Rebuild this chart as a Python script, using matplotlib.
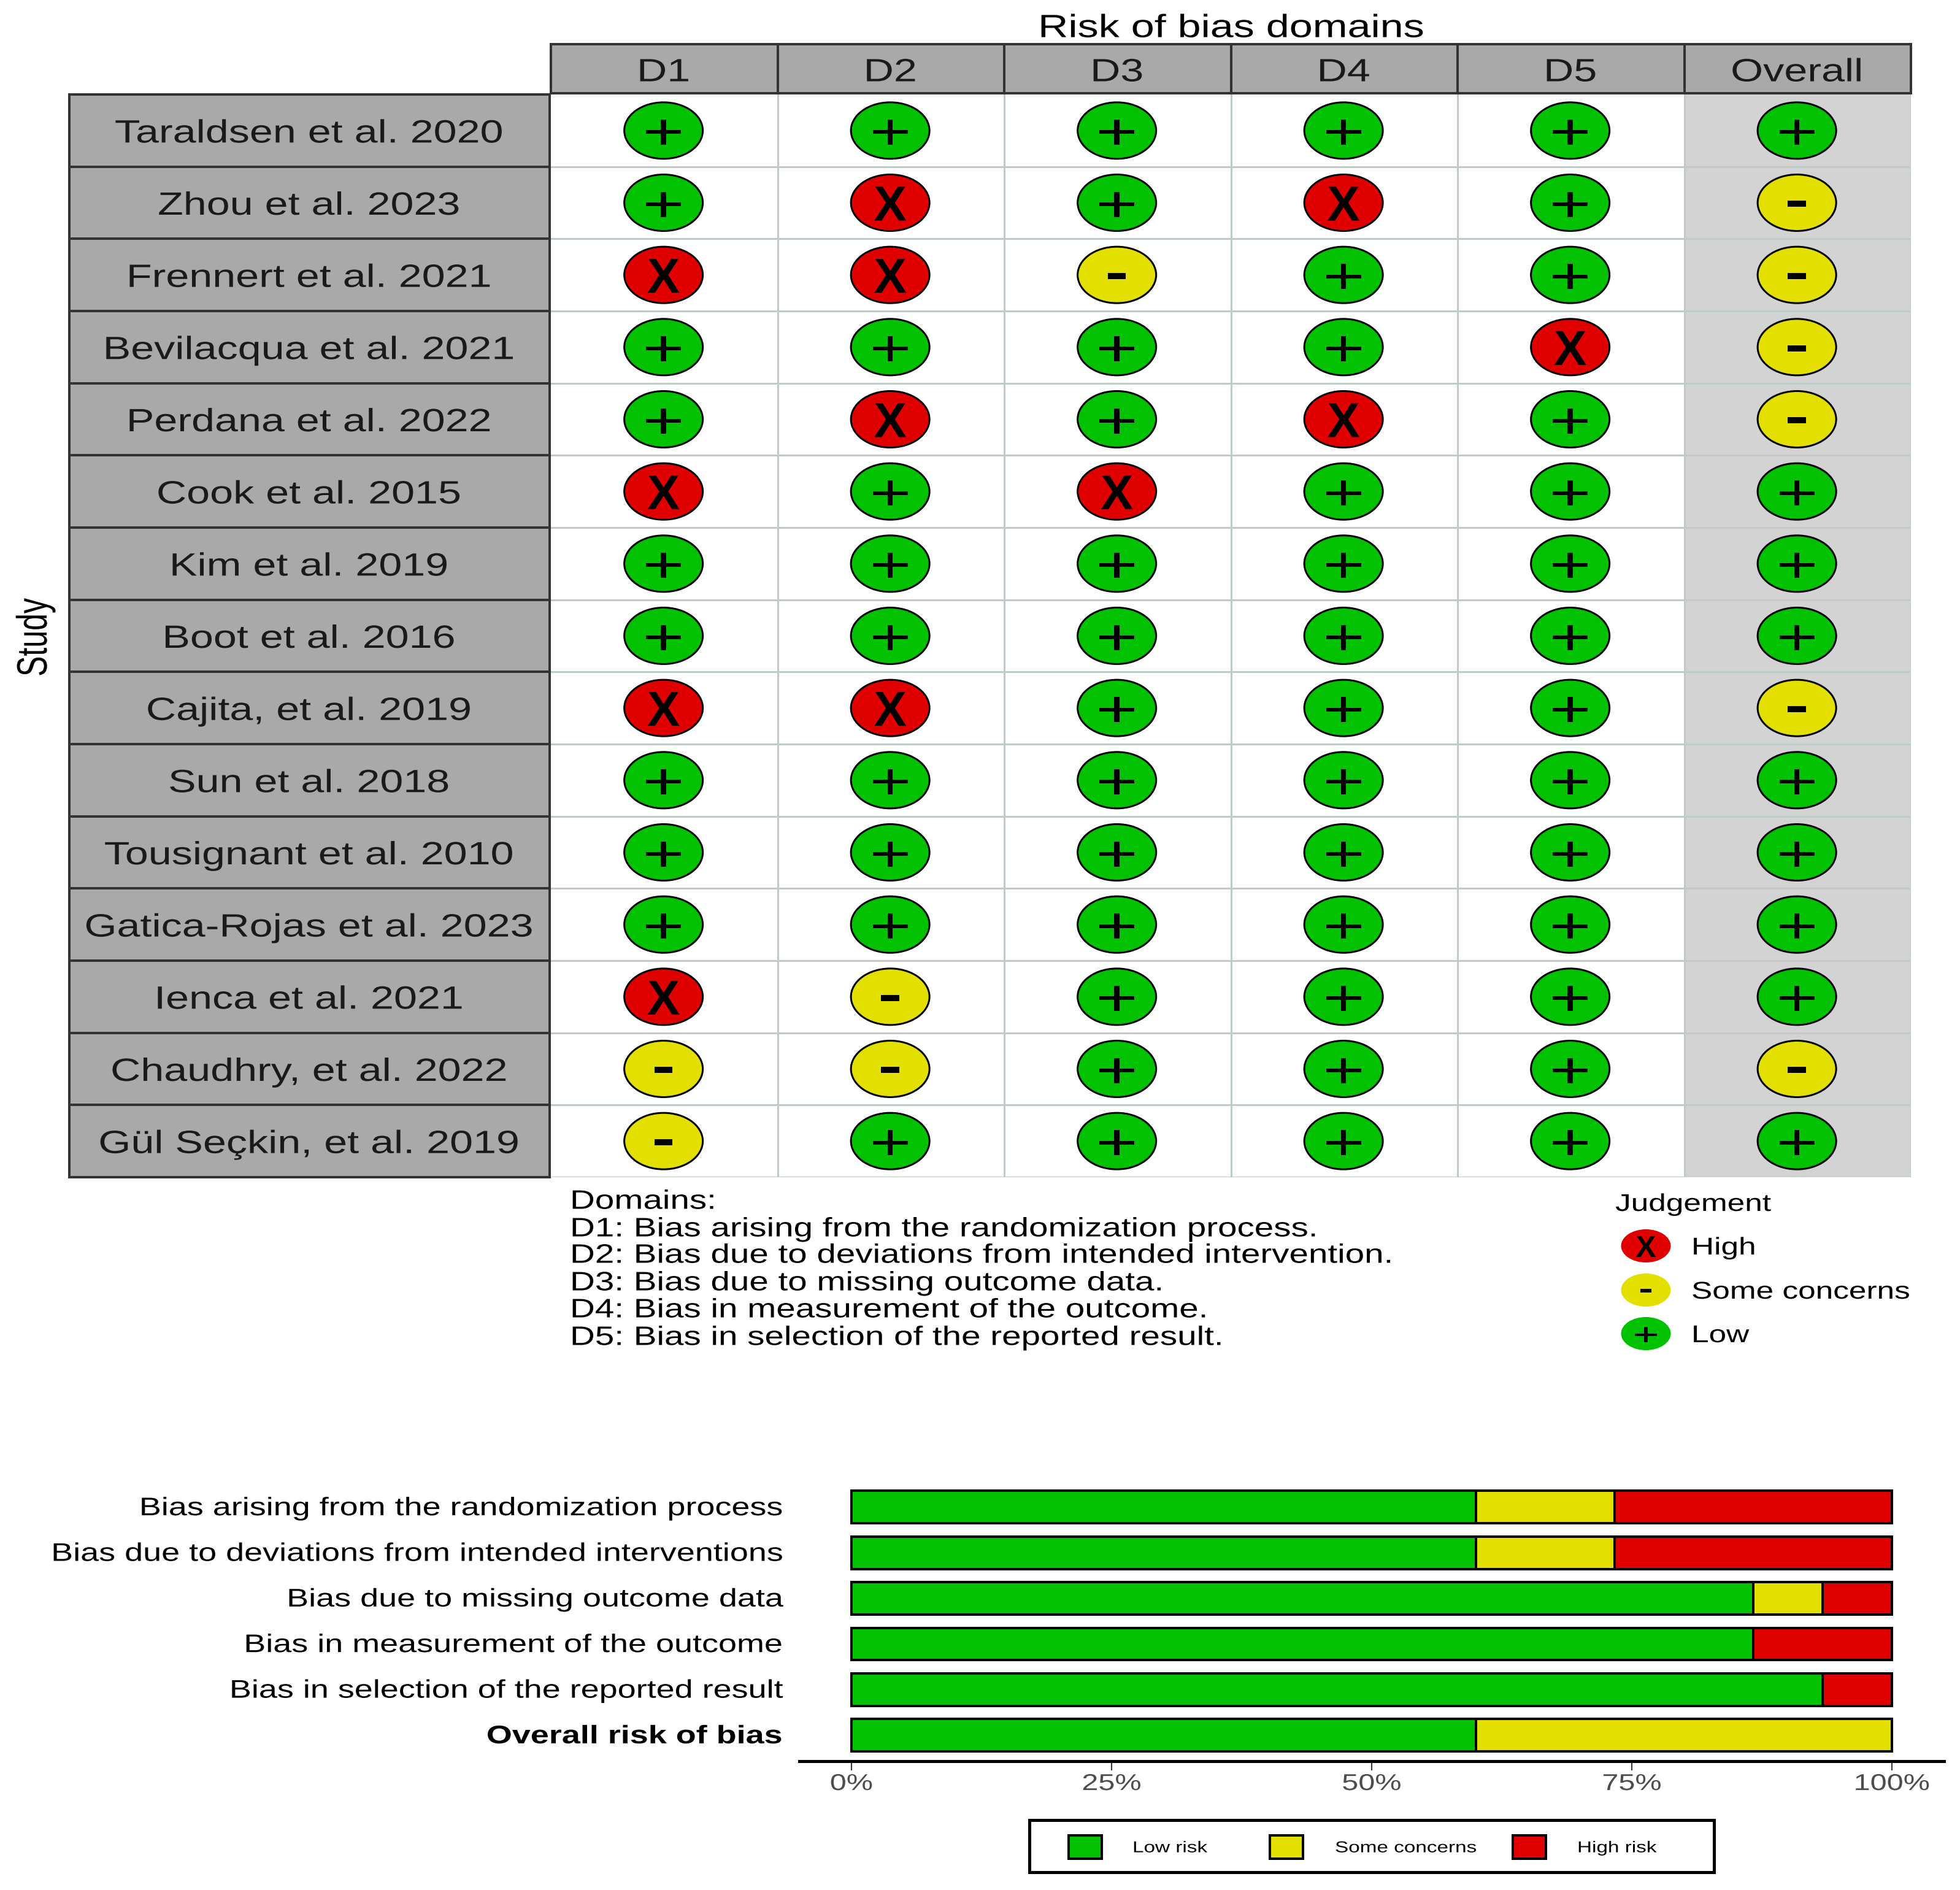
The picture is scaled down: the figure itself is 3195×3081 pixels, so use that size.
import matplotlib
matplotlib.use("Agg")
import matplotlib.pyplot as plt
from matplotlib.patches import Ellipse, Rectangle
from matplotlib.patheffects import AbstractPathEffect
from matplotlib.transforms import Affine2D

# ---------- data ----------
studies = ["Taraldsen et al. 2020", "Zhou et al. 2023", "Frennert et al. 2021",
           "Bevilacqua et al. 2021", "Perdana et al. 2022", "Cook et al. 2015",
           "Kim et al. 2019", "Boot et al. 2016", "Cajita, et al. 2019",
           "Sun et al. 2018", "Tousignant et al. 2010", "Gatica-Rojas et al. 2023",
           "Ienca et al. 2021", "Chaudhry, et al. 2022", "Gül Seçkin, et al. 2019"]
domains = ["D1", "D2", "D3", "D4", "D5", "Overall"]
d1 = list("LLHLLHLLHLLLHSS")
d2 = list("LHHLHLLLHLLLSSL")
d3 = list("LLSLLHLLLLLLLLL")
d4 = list("LHLLHLLLLLLLLLL")
d5 = list("LLLHLLLLLLLLLLL")
overall = list("LSSSSLLLSLLLLSL")
judgements = [d1, d2, d3, d4, d5, overall]

domain_notes = ["Domains:",
                "D1: Bias arising from the randomization process.",
                "D2: Bias due to deviations from intended intervention.",
                "D3: Bias due to missing outcome data.",
                "D4: Bias in measurement of the outcome.",
                "D5: Bias in selection of the reported result."]

bar_labels = ["Bias arising from the randomization process",
              "Bias due to deviations from intended interventions",
              "Bias due to missing outcome data",
              "Bias in measurement of the outcome",
              "Bias in selection of the reported result",
              "Overall risk of bias"]
low_risk = [60.0, 60.0, 86.67, 86.67, 93.33, 60.0]
some_concerns = [13.33, 13.33, 6.67, 0.0, 0.0, 40.0]
high_risk = [26.67, 26.67, 6.67, 13.33, 6.67, 0.0]
pct_ticks = [0, 25, 50, 75, 100]

# ---------- style ----------
GREEN, YELLOW, RED = "#02C100", "#E3E000", "#E00000"
COLORS = {"L": GREEN, "S": YELLOW, "H": RED}
GLYPH = {"L": "+", "S": "-", "H": "X"}
W, H = 3195, 3081
DPI = 100
STRETCH = 1.30
px = 72 / DPI  # points per pixel
plt.rcParams["font.family"] = ["Liberation Sans", "DejaVu Sans"]


class HStretch(AbstractPathEffect):
    """Widen a text horizontally about its anchor, as in the reference."""
    def __init__(self, text, factor=STRETCH):
        super().__init__()
        self.text = text
        self.factor = factor

    def draw_path(self, renderer, gc, tpath, affine, rgbFace=None):
        cx = self.text.get_transform().transform(self.text.get_position())[0]
        a = affine + Affine2D().translate(-cx, 0).scale(self.factor, 1).translate(cx, 0)
        renderer.draw_path(gc, tpath, a, rgbFace)


def stext(ax, x, y, s, size_px, ha="center", va="center", color="black", factor=STRETCH, **kw):
    t = ax.text(x, y, s, fontsize=size_px * px, ha=ha, va=va, color=color, **kw)
    t.set_path_effects([HStretch(t, factor)])
    return t


def glyph(ax, x, y, j, scale, rowpx, **kw):
    """Judgement sign; scale 1 is the size used in the matrix."""
    if j == "H":
        stext(ax, x, y, "X", 80 * scale, va="center_baseline", factor=1.0, fontweight="bold", **kw)
    elif j == "S":
        stext(ax, x, y - 7 * scale / rowpx, "-", 84 * scale, va="center_baseline", factor=1.39,
              fontweight="bold", **kw)
    else:
        stext(ax, x, y, "+", 84 * scale, va="center_baseline", factor=1.39, **kw)


def axes_px(x0, y0, x1, y1):
    return fig.add_axes([x0 / W, 1 - y1 / H, (x1 - x0) / W, (y1 - y0) / H])


fig = plt.figure(figsize=(W / DPI, H / DPI), dpi=DPI, facecolor="white")

# ---------- traffic light ----------
LEFT, SPLIT, GX1, GY0, TOP, GY1 = 113, 896, 3115, 72, 154, 1919
CW = (GX1 - 898) / 6
RH = (GY1 - TOP) / 15
label_cols = (898 - LEFT) / CW
head_rows = (TOP - GY0) / RH
ax = axes_px(LEFT, GY0, GX1, GY1)
ax.set_xlim(-0.5 - label_cols, 5.5)
ax.set_ylim(14.5, -0.5 - head_rows)
ax.axis("off")

ax.add_patch(Rectangle((4.5, -0.5), 1, 15, fc="#D3D3D3", ec="none", zorder=0))
for c in range(1, 6):
    ax.plot([c - 0.5, c - 0.5], [-0.5, 14.5], color="#BECCC4", lw=3 * px, zorder=1)
for r in range(1, 16):
    ax.plot([-0.5, 5.5], [r - 0.5, r - 0.5], color="#BECCC4", lw=3 * px, zorder=1)
ax.plot([5.5, 5.5], [-0.5, 14.5], color="#BECCC4", lw=2 * px, zorder=1)

for c, name in enumerate(domains):
    ax.add_patch(Rectangle((c - 0.5, -0.5 - head_rows), 1, head_rows - 0.02, fc="#A9A9A9",
                           ec="#333333", lw=4 * px, zorder=2, clip_on=False))
    stext(ax, c - 0.003, -0.5 - head_rows / 2, name, 52.5, va="center_baseline", color="#1A1A1A", zorder=3)
for r, name in enumerate(studies):
    ax.add_patch(Rectangle((-0.5 - label_cols, r - 0.5), label_cols - 2 / CW, 1, fc="#A9A9A9",
                           ec="#333333", lw=4 * px, zorder=2, clip_on=False))
    stext(ax, -0.5 - label_cols / 2 - 2 / CW, r, name, 52.5, va="center_baseline", color="#1A1A1A", zorder=3)

ew, eh = 128 / CW, 92 / RH
for c, col in enumerate(judgements):
    for r, j in enumerate(col):
        ax.add_patch(Ellipse((c - 0.003, r), ew, eh, fc=COLORS[j], ec="black", lw=3 * px, zorder=4))
        glyph(ax, c - 0.003, r, j, 1.0, RH, zorder=5)

# ---------- bar summary ----------
BX0, BX1 = 1388, 3084
pad = (BX1 - BX0) * 0.05
bx = axes_px(BX0 - pad, 2410, BX1 + pad, 2871)
bx.set_xlim(-5, 105)
bx.set_ylim(5.57, -0.63)
y = list(range(len(bar_labels)))
for vals, lefts, color in [(low_risk, [0] * 6, GREEN),
                           (some_concerns, low_risk, YELLOW),
                           (high_risk, [a + b for a, b in zip(low_risk, some_concerns)], RED)]:
    for yi, v, l in zip(y, vals, lefts):
        if v > 0:
            bx.barh(yi, v, left=l, height=0.71, color=color, edgecolor="black",
                    linewidth=4 * px, zorder=2)
for s in ["top", "right", "left"]:
    bx.spines[s].set_visible(False)
bx.spines["bottom"].set_linewidth(5 * px)
bx.set_yticks([])
bx.set_xticks(pct_ticks)
bx.set_xticklabels([])
bx.tick_params(axis="x", length=15 * px, width=2 * px, color="#333333")
for v in pct_ticks:
    stext(bx, v, 5.84, f"{v}%", 37.4, va="top", color="#4D4D4D", clip_on=False)
for yi, name in zip(y, bar_labels):
    stext(bx, -6.56, yi - 0.03, name, 41.5, ha="right", va="center_baseline", color="black", clip_on=False,
          fontweight="bold" if name.startswith("Overall") else "normal")

# ---------- annotations (pixel overlay) ----------
ov = axes_px(0, 0, W, H)
ov.set_xlim(0, W)
ov.set_ylim(H, 0)
ov.axis("off")
ov.patch.set_alpha(0)

stext(ov, 2007, 41, "Risk of bias domains", 52.5, va="center_baseline")
stext(ov, 58, 1039, "Study", 50, rotation=90, va="center", ha="center", factor=1.39)

note_y = [1955, 2000, 2043, 2088, 2132, 2177]
for yy, s in zip(note_y, domain_notes):
    stext(ov, 929, yy, s, 43.5, ha="left", va="center_baseline")

stext(ov, 2633, 1959, "Judgement", 39.5, ha="left", va="center_baseline")
for yy, j, name in zip([2031, 2103, 2174], "HSL", ["High", "Some concerns", "Low"]):
    ov.add_patch(Ellipse((2683, yy), 81, 54, fc=COLORS[j], ec="none"))
    glyph(ov, 2683, yy, j, 0.62, 1.0)
    stext(ov, 2757, yy - 1, name, 39.5, ha="left", va="center_baseline")

ov.add_patch(Rectangle((1678, 2967), 1116, 85, fc="white", ec="black", lw=5 * px))
for xx, tx, j, name in zip([1742, 2070, 2466], [1846, 2176, 2571], "LSH",
                           ["Low risk", "Some concerns", "High risk"]):
    ov.add_patch(Rectangle((xx, 2992), 54, 38, fc=COLORS[j], ec="black", lw=4 * px))
    stext(ov, tx, 3010, name, 25.6, ha="left", va="center_baseline")

fig.savefig("out.png", dpi=DPI, facecolor="white")
